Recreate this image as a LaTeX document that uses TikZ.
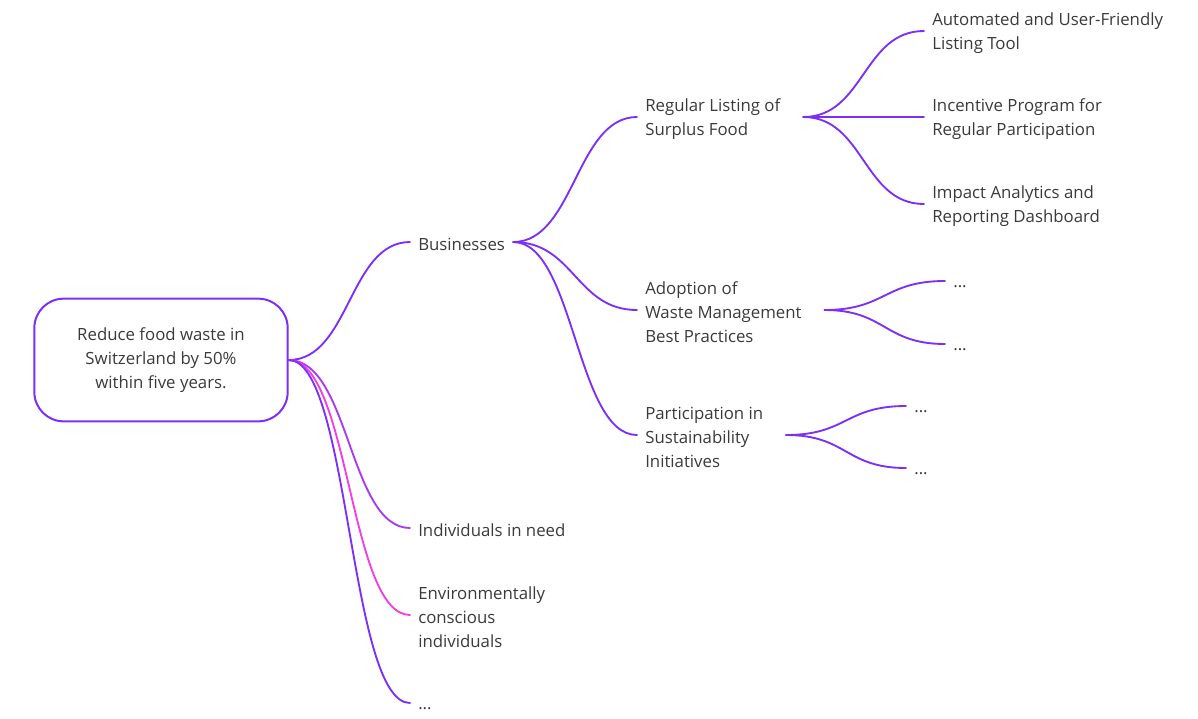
\documentclass[tikz,border=0pt]{standalone}
\usepackage{fontspec}
\setmainfont{Open Sans}
\usepackage{xcolor}
\usetikzlibrary{positioning}
\definecolor{mmviolet}{HTML}{7B2FF7}
\definecolor{mmorchid}{HTML}{A93AF2}
\definecolor{mmpink}{HTML}{F23FDE}
\definecolor{mmtext}{HTML}{3A3A3A}

\begin{document}
\begin{tikzpicture}[
  x=0.75pt,y=-0.75pt,
  goal/.style={draw=mmviolet, line width=1.5pt, rounded corners=22pt, minimum width=190pt, minimum height=92pt, align=center, text=mmtext, font=\fontsize{12.6}{18}\selectfont},
  topic/.style={anchor=west, inner xsep=6pt, inner ysep=0pt, align=left, text=mmtext, yshift=-1.5pt, font=\fontsize{12.6}{18}\selectfont},
  dots/.style={topic, yshift=-4pt},
  branch/.style={line width=1.4pt, draw=mmviolet, line cap=round}
]
\useasboundingbox (0,0) rectangle (1198,718);
\node[goal] (goal) at (161,360) {Reduce food waste in\\Switzerland by 50\%\\within five years.};
% first level
\node[topic] (biz) at (410,242) {Businesses};
\node[topic] (need) at (410,528) {Individuals in need};
\node[topic] (eco) at (410,615) {Environmentally\\conscious\\individuals};
\node[dots] (more) at (410,701) {...};
% second level
\node[topic] (listing) at (637,117) {Regular Listing of\\Surplus Food};
\node[topic] (waste) at (637,310) {Adoption of\\Waste Management\\Best Practices};
\node[topic] (initiative) at (637,435) {Participation in\\Sustainability\\Initiatives};
% third level
\node[topic] (tool) at (924,31) {Automated and User-Friendly\\Listing Tool};
\node[topic] (incentive) at (924,117) {Incentive Program for\\Regular Participation};
\node[topic] (report) at (924,204) {Impact Analytics and\\Reporting Dashboard};
\node[dots] (wasteA) at (945,279) {...};
\node[dots] (wasteB) at (945,342) {...};
\node[dots] (initA) at (906,404) {...};
\node[dots] (initB) at (906,466) {...};

\draw[branch] (goal.east) .. controls +(61,0) and +(-61,0) .. ([yshift=1.5pt]biz.west);
\draw[branch, draw=mmorchid] (goal.east) .. controls +(61,0) and +(-61,0) .. ([yshift=1.5pt]need.west);
\draw[branch, draw=mmpink] (goal.east) .. controls +(61,0) and +(-61,0) .. ([yshift=1.5pt]eco.west);
\draw[branch] (goal.east) .. controls +(61,0) and +(-61,0) .. ([yshift=4pt]more.west);

\draw[branch] ([yshift=1.5pt]biz.east) .. controls +(61,0) and +(-61,0) .. ([yshift=1.5pt]listing.west);
\draw[branch] ([yshift=1.5pt]biz.east) .. controls +(61,0) and +(-61,0) .. ([yshift=1.5pt]waste.west);
\draw[branch] ([yshift=1.5pt]biz.east) .. controls +(61,0) and +(-61,0) .. ([yshift=1.5pt]initiative.west);

\draw[branch] ([shift={(11pt,1.5pt)}]listing.east) .. controls +(61,0) and +(-61,0) .. ([yshift=1.5pt]tool.west);
\draw[branch] ([shift={(11pt,1.5pt)}]listing.east) -- ([yshift=1.5pt]incentive.west);
\draw[branch] ([shift={(11pt,1.5pt)}]listing.east) .. controls +(61,0) and +(-61,0) .. ([yshift=1.5pt]report.west);
\draw[branch] ([shift={(11pt,1.5pt)}]waste.east) .. controls +(61,0) and +(-61,0) .. ([yshift=4pt]wasteA.west);
\draw[branch] ([shift={(11pt,1.5pt)}]waste.east) .. controls +(61,0) and +(-61,0) .. ([yshift=4pt]wasteB.west);
\draw[branch] ([shift={(11pt,1.5pt)}]initiative.east) .. controls +(61,0) and +(-61,0) .. ([yshift=4pt]initA.west);
\draw[branch] ([shift={(11pt,1.5pt)}]initiative.east) .. controls +(61,0) and +(-61,0) .. ([yshift=4pt]initB.west);
\end{tikzpicture}
\end{document}
